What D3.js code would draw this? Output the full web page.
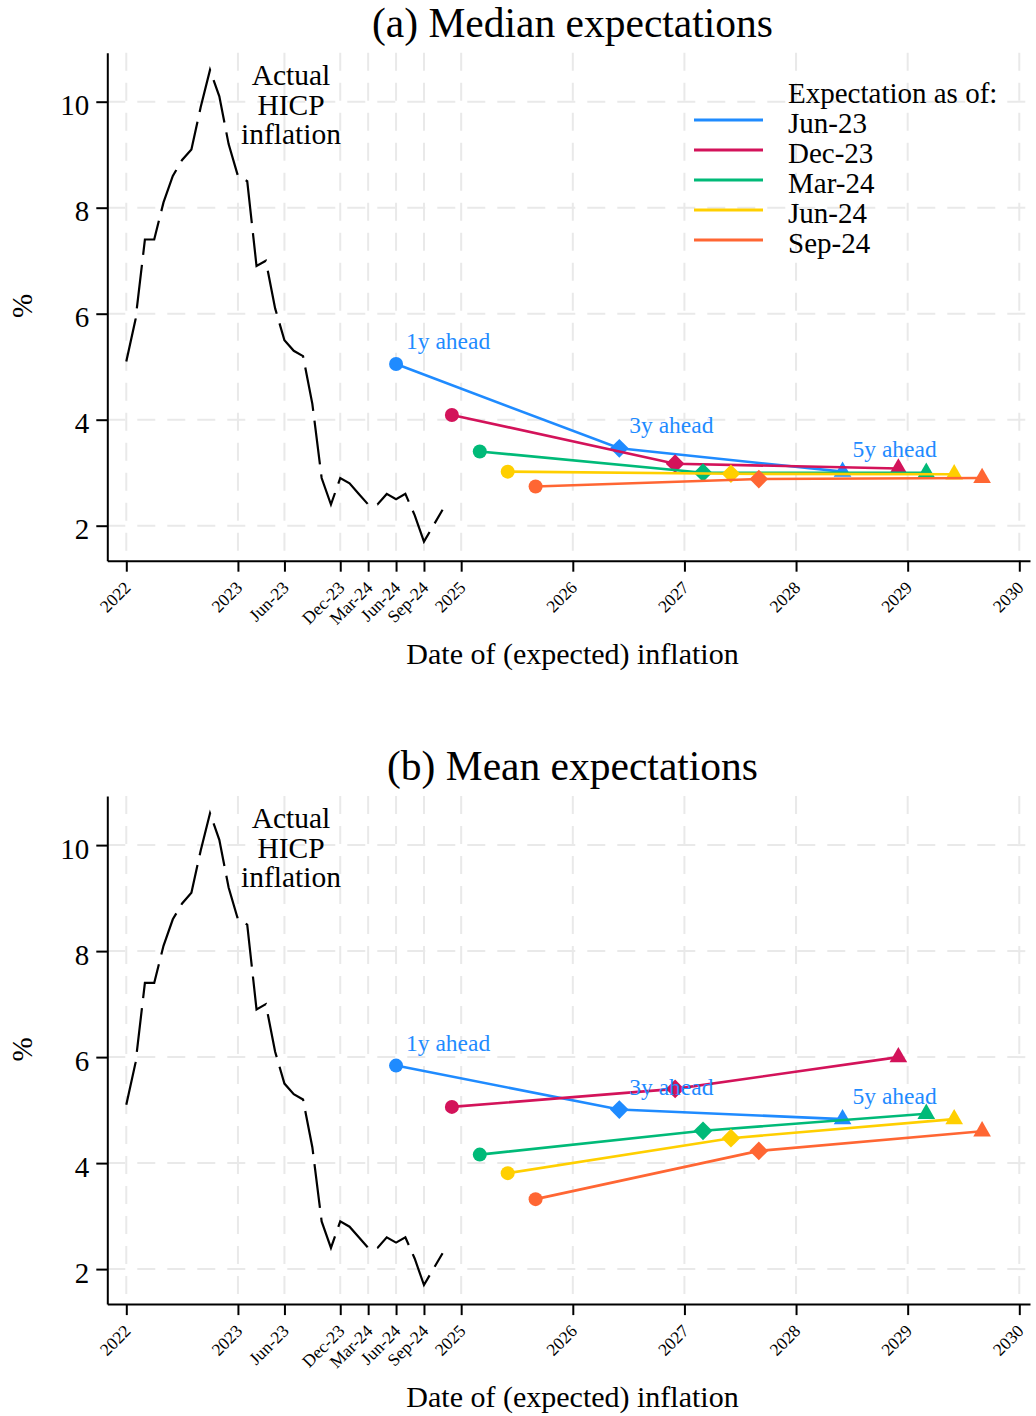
<!DOCTYPE html>
<html><head><meta charset="utf-8">
<script src="https://cdn.jsdelivr.net/npm/d3@7"></script>
<style>
body{margin:0;background:#fff;}
svg{display:block;}
text{font-family:"Liberation Serif","Times New Roman",serif;fill:#000;}
</style></head><body>
<svg id="chart" width="1036" height="1416"></svg>
<script>
// ---------------- DATA ----------------
const hicpStart = "2022-01";
const hicpValues = [5.1,5.9,7.4,7.4,8.1,8.6,8.9,9.1,9.9,10.6,10.1,9.2,
                    8.6,8.5,6.9,7.0,6.1,5.5,5.3,5.2,4.3,2.9,2.4,2.9,
                    2.8,2.6,2.4,2.4,2.6,2.5,2.6,2.2,1.7,2.0,2.3];

const surveys = ["Jun-23","Dec-23","Mar-24","Jun-24","Sep-24"];
const surveyMonths = ["2023-06","2023-12","2024-03","2024-06","2024-09"];
const horizons = [1,3,5];
const horizonLabels = ["1y ahead","3y ahead","5y ahead"];
const seriesColors = ["#1f8bff","#d3135a","#00ba78","#ffcf00","#ff6633"];

const medianJun23 = [5.05,3.46,3.02];
const medianDec23 = [4.09,3.17,3.08];
const medianMar24 = [3.40,3.00,3.00];
const medianJun24 = [3.02,2.98,2.97];
const medianSep24 = [2.74,2.88,2.90];

const meanJun23 = [5.84,5.01,4.83];
const meanDec23 = [5.06,5.40,6.00];
const meanMar24 = [4.16,4.61,4.93];
const meanJun24 = [3.81,4.47,4.83];
const meanSep24 = [3.32,4.23,4.60];

const yTickValues = [2,4,6,8,10];
const xTickMonths = ["2022-01","2023-01","2023-06","2023-12","2024-03","2024-06","2024-09",
                     "2025-01","2026-01","2027-01","2028-01","2029-01","2030-01"];
const xTickLabels = ["2022","2023","Jun-23","Dec-23","Mar-24","Jun-24","Sep-24",
                     "2025","2026","2027","2028","2029","2030"];

const panelTitles = ["(a) Median expectations","(b) Mean expectations"];
const legendTitle = "Expectation as of:";
const annotationLines = ["Actual","HICP","inflation"];
const xAxisTitle = "Date of (expected) inflation";
const yAxisTitle = "%";

// ---------------- HELPERS ----------------
function toYear(s){ const [y,m] = s.split("-").map(Number); return y + (m-1)/12; }

const medianSeries = [medianJun23,medianDec23,medianMar24,medianJun24,medianSep24];
const meanSeries = [meanJun23,meanDec23,meanMar24,meanJun24,meanSep24];

const hicp = hicpValues.map((v,i)=>({t: toYear(hicpStart) + i/12, v}));

const svg = d3.select("#chart");

// layout
const plotLeft = 107.3, plotRight = 1030, plotTop = 52.7, plotBottom = 560.7;
const pxPerYear = (1019.3-126.3)/8;
const x = d3.scaleLinear()
  .domain([2022 - (126.3-plotLeft)/pxPerYear, 2030 + (plotRight-1019.3)/pxPerYear])
  .range([plotLeft, plotRight]);
const pxPerUnit = (525.7-101.7)/8;
const y = d3.scaleLinear()
  .domain([2 - (plotBottom-525.7)/pxPerUnit, 10 + (101.7-plotTop)/pxPerUnit])
  .range([plotBottom, plotTop]);

const xTicks = xTickMonths.map(toYear);

function drawPanel(idx, offsetY, seriesVals, showLegend){
  const g = svg.append("g").attr("transform", `translate(0,${offsetY})`);

  // grid
  const grid = g.append("g").attr("stroke","#e9e9e9").attr("stroke-width",2)
     .attr("stroke-dasharray","18,12");
  xTicks.forEach(t=>{
    grid.append("line").attr("x1",x(t)).attr("x2",x(t)).attr("y1",plotTop).attr("y2",plotBottom);
  });
  yTickValues.forEach(v=>{
    grid.append("line").attr("x1",plotLeft).attr("x2",plotRight).attr("y1",y(v)).attr("y2",y(v));
  });

  // axes
  const yAxis = g.append("g").attr("transform",`translate(${plotLeft},0)`)
    .call(d3.axisLeft(y).tickValues(yTickValues).tickSize(11).tickSizeOuter(0).tickPadding(7)
          .tickFormat(d3.format("d")));
  yAxis.selectAll("text").attr("font-size",29).attr("dy","0.45em")
       .attr("font-family","Liberation Serif, serif");
  yAxis.selectAll("line,path").attr("stroke","#000").attr("stroke-width",2);

  const xAxis = g.append("g").attr("transform",`translate(0,${plotBottom})`)
    .call(d3.axisBottom(x).tickValues(xTicks).tickSize(11).tickSizeOuter(0)
          .tickFormat((d,i)=>xTickLabels[i]));
  xAxis.selectAll("text").attr("font-size",17.5).attr("font-family","Liberation Serif, serif")
       .attr("x",0).attr("y",0).attr("dy",0)
       .attr("text-anchor","end")
       .attr("transform","translate(5,28) rotate(-45)");
  xAxis.selectAll("line,path").attr("stroke","#000").attr("stroke-width",2);

  // axis titles
  g.append("text").attr("x",572.5).attr("y",664).attr("text-anchor","middle")
    .attr("font-size",30).text(xAxisTitle);
  g.append("text").attr("transform","translate(32,306) rotate(-90)").attr("text-anchor","middle")
    .attr("font-size",29).text(yAxisTitle);

  // HICP line
  g.append("path").datum(hicp)
    .attr("fill","none").attr("stroke","#000").attr("stroke-width",2.2)
    .attr("stroke-dasharray","44,10")
    .attr("d", d3.line().x(d=>x(d.t)).y(d=>y(d.v)));

  // annotation
  annotationLines.forEach((s,i)=>{
    g.append("text").attr("x",291).attr("y",85 + i*29.5).attr("text-anchor","middle")
     .attr("font-size",29.5).text(s);
  });

  // expectation series
  const diamond = d3.symbol().type(d3.symbolSquare).size(175);
  const triangle = d3.symbol().type(d3.symbolTriangle).size(135);
  surveys.forEach((sv,si)=>{
    const t0 = toYear(surveyMonths[si]);
    const pts = horizons.map((h,hi)=>({t: t0 + h, v: seriesVals[si][hi], hi}));
    const col = seriesColors[si];
    const sg = g.append("g");
    sg.append("path").datum(pts).attr("fill","none").attr("stroke",col).attr("stroke-width",2.6)
      .attr("d", d3.line().x(d=>x(d.t)).y(d=>y(d.v)));
    pts.forEach(p=>{
      if(p.hi===0){
        sg.append("circle").attr("cx",x(p.t)).attr("cy",y(p.v)).attr("r",7).attr("fill",col);
      } else if(p.hi===1){
        sg.append("path").attr("d",diamond())
          .attr("transform",`translate(${x(p.t)},${y(p.v)}) rotate(45)`).attr("fill",col);
      } else {
        sg.append("path").attr("d",triangle())
          .attr("transform",`translate(${x(p.t)},${y(p.v)})`).attr("fill",col);
      }
    });
  });

  // horizon labels (next to the first survey series)
  {
    const t0 = toYear(surveyMonths[0]);
    horizons.forEach((h,hi)=>{
      g.append("text").attr("x",x(t0+h)+10).attr("y",y(seriesVals[0][hi])-15)
        .attr("font-size",23.5).style("fill",seriesColors[0]).text(horizonLabels[hi]);
    });
  }

  // legend
  if(showLegend){
    const lg = g.append("g");
    lg.append("text").attr("x",788).attr("y",103).attr("font-size",29).text(legendTitle);
    surveys.forEach((sv,si)=>{
      const ly = 120 + si*30;
      lg.append("line").attr("x1",694).attr("x2",763).attr("y1",ly).attr("y2",ly)
        .attr("stroke",seriesColors[si]).attr("stroke-width",3);
      lg.append("text").attr("x",788).attr("y",ly+12.5).attr("font-size",29).text(sv);
    });
  }

  // title
  g.append("text").attr("x",572.5).attr("y",37).attr("text-anchor","middle")
    .attr("font-size",41.5).text(panelTitles[idx]);
}

drawPanel(0, 0, medianSeries, true);
drawPanel(1, 743.4, meanSeries, false);
</script>
</body></html>
